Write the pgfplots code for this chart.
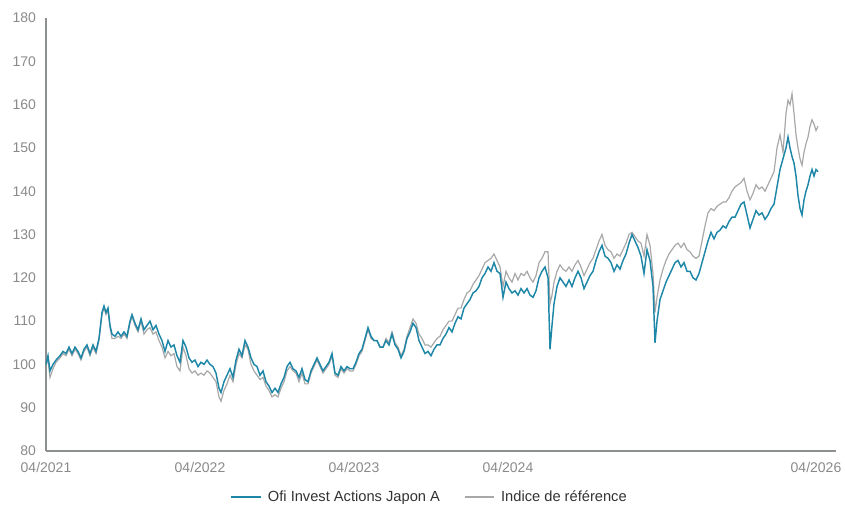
\documentclass[border=0pt]{standalone}
\usepackage{pgfplots}
\pgfplotsset{compat=1.18}
\usepackage{pgfplotstable}
\usepackage{fontspec}
\setmainfont{Liberation Sans}

\definecolor{fundblue}{HTML}{1E87A8}
\definecolor{idxgrey}{HTML}{A8A8A8}
\definecolor{axisgrey}{HTML}{8C9090}
\definecolor{txtgrey}{HTML}{8A8A8A}

% x = horizontal position (pixels), mapped to months since 04/2021
\pgfplotstableread{
px fund idx
46 100 100
48 102 101
50 98.5 97
53 100 99
56 101 100.5
60 102 101.5
63 103 102.5
66 102.5 102
69 104 103.5
72 102.5 102
75 104 103.5
78 103 102.5
81 101.5 101
84 103.5 103
87 104.5 104
90 102.5 102
93 104.5 104
96 103 102.5
99 106 105.5
102 112 111.5
104 113.5 113
106 112 111.5
108 113 112.5
110 109 108.5
112 107 106
115 106.5 106
118 107.5 106.5
121 106.5 106
124 107.5 107
127 106.5 106
130 110 109.5
132 111.5 111
135 109.5 109
138 108 107.5
141 110.5 110
144 108 107
147 109 108
150 110 108.5
153 108 107
156 109 107.5
159 107 105.5
162 105.5 104
165 103 101.5
168 105.5 103
171 104 102
174 104.5 102.5
177 102 99.5
180 100.5 98.5
183 105.5 104
186 104 102
189 101.5 99
192 100.5 98
195 101 98.5
198 99.5 97.5
201 100.5 98
204 100 97.5
207 101 98.5
210 100 98
213 99.5 97
216 98 96
219 94.5 92.5
221 93.5 91.5
224 96 94
227 97.5 95.5
230 99 97.5
233 97 96
236 101 100
239 103.5 102.5
242 102 101.5
245 105.5 104.5
248 104 103.5
251 101.5 100
254 100 98.5
257 99.5 97.5
260 97.5 96.5
263 98.5 97
266 96 95
269 95 94
272 93.5 92.5
275 94.5 93
278 93.5 92.5
281 95.5 94.5
284 97 96
287 99.5 98.5
290 100.5 99.5
293 99 98.5
296 98.5 98
299 97 96
302 99 98
305 96.5 95.5
308 96 95.5
311 98.5 98
314 100 99.5
317 101.5 101
320 100 99.5
323 98.5 98
326 99.5 99
329 100.5 100
332 102.5 102
335 98 97.5
338 97.5 97
341 99.5 99
344 98.5 98
347 99.5 99
350 99 98.5
353 99 98.5
356 100.5 100
359 102.5 102
362 103.5 103
365 106 105.5
368 108.5 108
371 106.5 106
374 105.5 105.5
377 105.5 105.5
380 104 104
383 104 104
386 105.5 106
389 104.5 105
392 107 107.5
395 104.5 105
398 103.5 104
401 101.5 102
404 103 103.5
407 106 106.5
410 107.5 108.5
413 109.5 110.5
416 108.5 109.5
419 105.5 107
422 104 106
425 102.5 104.5
428 103 104.5
431 102 104
434 103.5 105
437 104.5 106
440 104.5 106.5
443 106 108
446 107 109
449 108.5 110
452 107.5 110
455 109.5 111.5
458 111 113
461 110.5 113
464 113 115
467 114 116.5
470 115 117
473 116.5 118.5
476 117 119.5
479 118 120.5
482 120 122
485 121 123.5
488 122.5 124
491 121.5 124.5
494 123.5 125.5
497 121.5 124
500 121 122.5
503 115.5 118
506 119 121.5
509 117.5 120
512 116.5 119
515 117 121
518 116 119.5
521 117.5 121
524 116.5 120.5
527 117.5 121.5
530 116 120
533 115.5 119
536 117 120.5
539 120 123.5
542 121.5 124.5
545 122.5 126
548 120 126
550 103.5 114
552 109 116
554 114 119
557 118 121.5
560 120 123
563 119 122
566 118 121.5
569 119.5 122.5
572 118 121.5
575 120 123
578 121.5 124
581 120 122.5
584 117.5 120.5
587 119 122
590 120.5 123.5
593 121.5 124.5
596 124 126.5
599 126 128.5
602 127.5 130
605 125 127.5
608 124.5 126.5
611 123.5 126
614 121.5 124.5
617 123 125.5
620 122 125
623 124 126.5
626 125.5 128
629 128 130
632 130 130.5
635 128.5 129.5
638 127 128.5
641 125 128
644 121 125
647 126.5 130
650 124 127.5
653 118 121
655 105 112
657 110 115.5
660 115 119.5
663 117 122
666 119 124
669 120.5 125.5
672 122 126.5
675 123.5 127.5
678 124 128
681 122.5 127
684 123.5 128
687 121.5 126.5
690 121.5 126
693 120 125
696 119.5 124.5
699 121 125
702 123.5 128.5
705 126 132
708 128.5 135
711 130.5 136
714 129 135.5
717 130.5 136.5
720 131 137
723 132 137.5
726 131.5 137.5
729 133 138.5
732 134 140
735 134 141
738 135.5 141.5
741 137 142
744 137.5 143
747 134.5 140
750 131.5 138
753 133.5 139.5
756 135.5 141.5
759 134.5 140.5
762 135 141
765 133.5 140
768 134.5 141.5
771 136 143
774 137 144.5
777 141 150
780 145 153
783 147.5 149
786 150 158
788 152.5 161
790 150 160
792 148 162.5
794 146.5 158
796 143.5 153
798 139 150
800 136 147.5
802 134.5 146
804 138 149
806 140 151
808 141.5 152.5
810 143.5 155
812 145 156.5
814 143.5 155.5
816 145 154
818 144.5 155
}\perf

\begin{document}
\begin{tikzpicture}
\begin{axis}[
    name=ax,
    width=592.5pt, height=324.75pt,
    scale only axis,
    xmin=0, xmax=61.56,
    ymin=80, ymax=180,
    ytick={80,90,...,180},
    xtick={0,12,24,36,60},
    xticklabels={04/2021,04/2022,04/2023,04/2024,04/2026},
    axis x line*=bottom,
    axis y line*=left,
    axis line style={axisgrey, line width=0.9pt},
    major tick length=0pt,
    ticklabel style={font=\fontsize{10.5}{12}\selectfont, text=txtgrey},
    /pgf/number format/assume math mode=true,
    yticklabel style={xshift=-4pt},
    xticklabel style={yshift=-5pt},
    x filter/.expression={(x-46)/12.833},
    legend style={at={(0.486,-0.106)}, anchor=center, draw=none,
        font=\fontsize{11}{13}\selectfont, text=black!80,
        legend columns=2,
        /tikz/every odd column/.append style={column sep=3pt},
        /tikz/every even column/.append style={column sep=16pt}},
    legend image code/.code={\draw[#1] (0pt,0pt) -- (22pt,0pt);},
    clip=false,
]
\addplot[idxgrey, line width=0.9pt, forget plot] table[x=px, y=idx] {\perf};
\addplot[fundblue, line width=1.1pt] table[x=px, y=fund] {\perf};
\addlegendentry{Ofi Invest Actions Japon A}
\addlegendimage{idxgrey, line width=0.9pt}
\addlegendentry{Indice de référence}
\end{axis}
\pgfresetboundingbox
\path ([shift={(-34.5pt,-42.75pt)}]ax.south west) rectangle ([shift={(6.75pt,13.5pt)}]ax.north east);
\end{tikzpicture}
\end{document}
